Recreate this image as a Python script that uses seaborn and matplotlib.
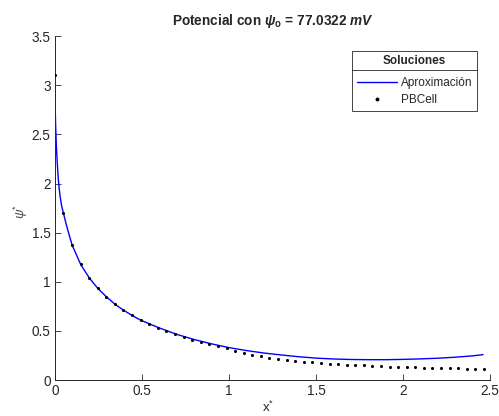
import matplotlib
matplotlib.use("Agg")
import matplotlib.pyplot as plt
import seaborn as sns
import pandas as pd
from matplotlib.lines import Line2D

# ---- data ----
x_pbcell = [0.000, 0.049, 0.099, 0.148, 0.197, 0.247, 0.296, 0.345, 0.394, 0.444,
            0.493, 0.542, 0.592, 0.641, 0.690, 0.740, 0.789, 0.838, 0.887, 0.937,
            0.986, 1.035, 1.085, 1.134, 1.183, 1.233, 1.282, 1.331, 1.380, 1.430,
            1.479, 1.528, 1.578, 1.627, 1.676, 1.726, 1.775, 1.824, 1.873, 1.923,
            1.972, 2.021, 2.071, 2.120, 2.169, 2.219, 2.268, 2.317, 2.366, 2.416,
            2.465]
y_pbcell = [3.110, 1.704, 1.374, 1.177, 1.041, 0.932, 0.847, 0.772, 0.711, 0.657,
            0.609, 0.568, 0.531, 0.494, 0.466, 0.436, 0.408, 0.385, 0.364, 0.344,
            0.323, 0.296, 0.276, 0.259, 0.242, 0.228, 0.214, 0.204, 0.194, 0.187,
            0.180, 0.173, 0.167, 0.160, 0.157, 0.153, 0.150, 0.147, 0.140, 0.137,
            0.133, 0.130, 0.130, 0.127, 0.124, 0.124, 0.120, 0.120, 0.117, 0.117,
            0.117]

x_aprox = [0.000, 0.0005, 0.001, 0.002, 0.003, 0.004, 0.006, 0.008, 0.010, 0.013,
           0.016, 0.019, 0.024, 0.030, 0.038, 0.049, 0.060, 0.075, 0.099,
           0.148, 0.197, 0.247, 0.296, 0.345, 0.394, 0.444, 0.493, 0.60, 0.70,
           0.80, 0.90, 1.00, 1.10, 1.20, 1.30, 1.40, 1.50, 1.60, 1.70,
           1.80, 1.90, 2.00, 2.10, 2.20, 2.30, 2.40, 2.46]
y_aprox = [3.000, 2.930, 2.860, 2.760, 2.680, 2.610, 2.500, 2.410, 2.330, 2.230,
           2.140, 2.060, 1.960, 1.870, 1.780, 1.700, 1.620, 1.520, 1.374,
           1.177, 1.041, 0.932, 0.847, 0.772, 0.711, 0.657, 0.609, 0.530, 0.465,
           0.412, 0.368, 0.330, 0.300, 0.275, 0.255, 0.237, 0.223, 0.214, 0.209,
           0.207, 0.207, 0.210, 0.215, 0.222, 0.232, 0.246, 0.258]

x_ticks = [0, 0.5, 1, 1.5, 2, 2.5]
y_ticks = [0, 0.5, 1, 1.5, 2, 2.5, 3, 3.5]
x_tick_labels = ['0', '0.5', '1', '1.5', '2', '2.5']
y_tick_labels = ['0', '0.5', '1', '1.5', '2', '2.5', '3', '3.5']
title_text = r'Potencial con $\psi_{\mathbf{o}}$ = 77.0322 $mV$'
legend_title = 'Soluciones'
label_line = 'Aproximación'
label_dots = 'PBCell'

# ---- style ----
sns.set_theme(style="white")
plt.rcParams['font.family'] = ['Liberation Sans', 'DejaVu Sans']
plt.rcParams['mathtext.fontset'] = 'custom'
plt.rcParams['mathtext.rm'] = 'Liberation Sans'
plt.rcParams['mathtext.it'] = 'Liberation Sans:italic:bold'
plt.rcParams['mathtext.bf'] = 'Liberation Sans:bold'
plt.rcParams['mathtext.sf'] = 'Liberation Sans:italic'

gray = (0.15, 0.15, 0.15)
fig = plt.figure(figsize=(4.99, 4.16), dpi=100)
ax = fig.add_axes([0.110, 0.0865, 0.872, 0.8265])

df_line = pd.DataFrame({'x': x_aprox, 'y': y_aprox})
df_dots = pd.DataFrame({'x': x_pbcell, 'y': y_pbcell})

sns.lineplot(data=df_line, x='x', y='y', ax=ax, color=(0, 0, 1), lw=1.0,
             sort=False, label=label_line, estimator=None)
sns.scatterplot(data=df_dots, x='x', y='y', ax=ax, color='black', s=5,
                linewidth=0, label=label_dots, zorder=3)

ax.set_xlim(0, 2.5)
ax.set_ylim(0, 3.5)
ax.set_xticks(x_ticks)
ax.set_xticklabels(x_tick_labels)
ax.set_yticks(y_ticks)
ax.set_yticklabels(y_tick_labels)
ax.tick_params(direction='in', length=4, width=0.6, colors=gray,
               labelsize=9.8, labelcolor=gray, pad=3, bottom=True, left=True)
for s in ['top', 'right']:
    ax.spines[s].set_visible(False)
for s in ['left', 'bottom']:
    ax.spines[s].set_color(gray)
    ax.spines[s].set_linewidth(0.7)

ax.set_xlabel(r'x$^{\mathrm{*}}$', fontsize=9.5, color=gray)
ax.xaxis.set_label_coords(0.49, -0.058)
ax.set_ylabel(r'$\mathsf{\psi}^{\mathrm{*}}$', fontsize=9.5, color=(0.3, 0.3, 0.3))
ax.yaxis.set_label_coords(-0.058, 0.49)
ax.set_title(title_text, fontsize=9.8, fontweight='bold', pad=8)

handles = [Line2D([], [], color=(0, 0, 1), lw=1.0),
           Line2D([], [], color='black', marker='o', ls='none', ms=1.8)]
leg = ax.legend(handles, [label_line, label_dots], title=legend_title,
                loc='upper right', bbox_to_anchor=(0.970, 0.958),
                fontsize=8.5, title_fontproperties={'weight': 'bold', 'size': 8.5},
                frameon=True, fancybox=False, edgecolor=gray, framealpha=1,
                borderpad=0.4, handlelength=3.4, handletextpad=0.3,
                labelspacing=0.45, borderaxespad=0)
leg.get_frame().set_linewidth(0.6)
leg._legend_box.sep = 7

fig.canvas.draw()
r = fig.canvas.get_renderer()
fb = leg.get_frame().get_window_extent(r)
tb = leg.get_title().get_window_extent(r)
ysep = tb.y0 - 3
inv = fig.transFigure.inverted()
(x0, y0) = inv.transform((fb.x0, ysep))
(x1, _) = inv.transform((fb.x1, ysep))
fig.add_artist(Line2D([x0, x1], [y0, y0], color=gray, lw=0.6,
                      transform=fig.transFigure))

fig.savefig('out.png', dpi=100)
